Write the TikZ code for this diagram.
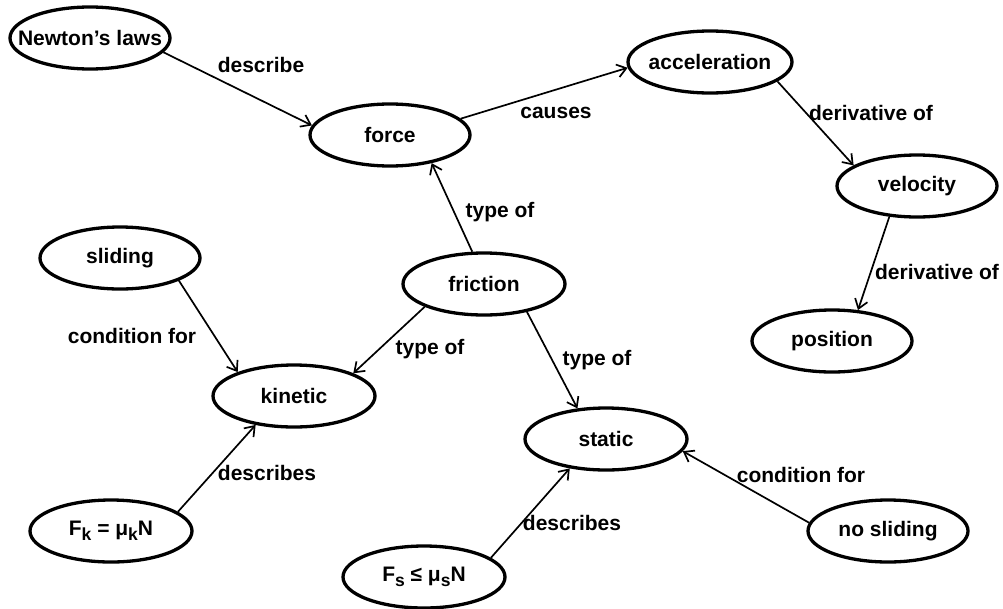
\documentclass[tikz,border=0pt]{standalone}
\usepackage{fontspec}
\setmainfont{Liberation Sans}
\usetikzlibrary{shapes.geometric,arrows.meta}
\newcommand\subsc[1]{\raisebox{-0.45ex}{\fontsize{17.5}{17.5}\selectfont #1}}
\newcommand\cz[1]{\makebox[0pt][c]{#1}}
\tikzset{
  concept/.style={draw, ellipse, line width=3.3pt, minimum width=160pt, minimum height=62pt,
    inner sep=0pt, font=\fontsize{21}{24}\selectfont\bfseries},
  conn/.style={line width=1.7pt, -{Straight Barb[length=9pt,width=13pt,line width=1.7pt]}},
  lab/.style={font=\fontsize{21}{24}\selectfont\bfseries, inner sep=0pt}
}
\begin{document}
\begin{tikzpicture}[x=1pt,y=-1pt]
\useasboundingbox (0,0) rectangle (1003,608);
% concepts
\node[concept] (newton) at (90,38) {\cz{Newton\symbol{"0027}s laws}};
\node[concept] (force) at (390,135) {\cz{force}};
\node[concept, minimum width=164pt] (accel) at (710,62) {\cz{acceleration}};
\node[concept] (vel) at (917,186) {\cz{velocity}};
\node[concept] (pos) at (832,341) {\cz{position}};
\node[concept] (slid) at (120,258) {\cz{sliding}};
\node[concept, minimum width=162pt] (fric) at (484,284) {\cz{friction}};
\node[concept, minimum width=162pt] (kin) at (294,396) {\cz{kinetic}};
\node[concept, minimum width=162pt] (fk) at (111,531) {\cz{F\subsc{k} = μ\subsc{k}N}};
\node[concept, minimum width=162pt] (fs) at (424,577) {\cz{F\subsc{s} ≤ μ\subsc{s}N}};
\node[concept, minimum width=162pt] (stat) at (606,439) {\cz{static}};
\node[concept] (nosl) at (888,531) {\cz{no sliding}};
% connectors
\draw[conn] (newton.-11) -- (force.173);
\draw[conn] (force.13) -- (accel.184);
\draw[conn] (accel.-16) -- (vel.162);
\draw[conn] (vel.-132) -- (pos.50);
\draw[conn] (fric.110) -- (force.-34);
\draw[conn] (fric.-159) -- (kin.21);
\draw[conn] (fric.-33) -- (stat.133);
\draw[conn] (slid.-21) -- (kin.157);
\draw[conn] (fk.16) -- (kin.-143);
\draw[conn] (fs.16) -- (stat.-141);
\draw[conn] (nosl.174) -- (stat.-9);
% labels
\node[lab] (l1) at (261,65) {describe};
\node[lab] (l2) at (556,113) {causes};
\node[lab] (l3) at (871,113) {derivative of};
\node[lab] (l4) at (937,272) {derivative of};
\node[lab] (l5) at (500,212) {type of};
\node[lab] (l6) at (430,349) {type of};
\node[lab] (l7) at (597,360) {type of};
\node[lab] (l8) at (132,336) {condition for};
\node[lab] (l9) at (267,473) {describes};
\node[lab] (l10) at (572,523) {describes};
\node[lab] (l11) at (801,475) {condition for};
\end{tikzpicture}
\end{document}
